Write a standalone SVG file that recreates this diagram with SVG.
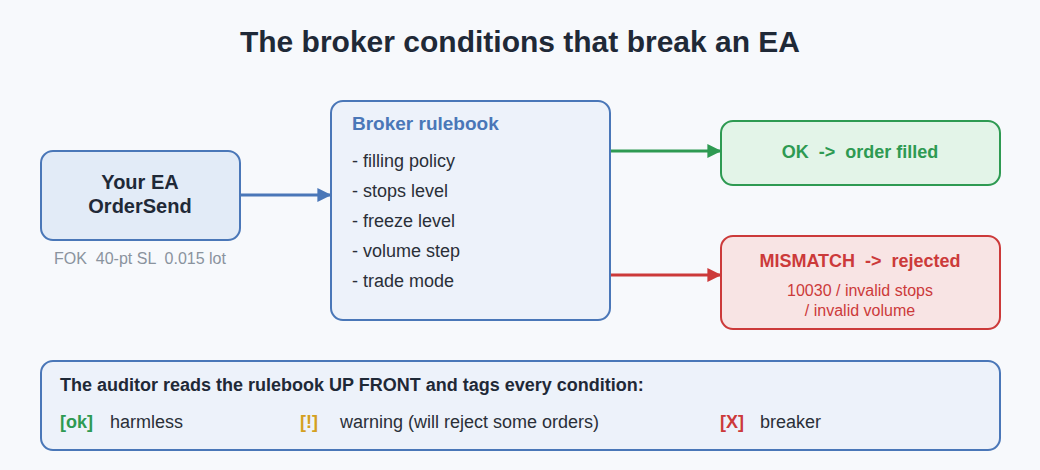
<svg xmlns="http://www.w3.org/2000/svg" width="1040" height="470" viewBox="0 0 1040 470">
<defs>
<style>
text{font-family:"Liberation Sans",Arial,sans-serif}
.box{stroke-width:2}
.blue{fill:#edf2fa;stroke:#4a77b8}
.dark{fill:#1f2937}
.item{font-size:18px;fill:#2a2f38}
.conn{fill:none;stroke-width:3}
</style>
<marker id="ab" viewBox="0 0 10 10" refX="9" refY="5" markerWidth="14" markerHeight="14" markerUnits="userSpaceOnUse" orient="auto"><path d="M0,0 L10,5 L0,10 z" fill="#4a77b8"/></marker>
<marker id="ag" viewBox="0 0 10 10" refX="9" refY="5" markerWidth="14" markerHeight="14" markerUnits="userSpaceOnUse" orient="auto"><path d="M0,0 L10,5 L0,10 z" fill="#2e9a52"/></marker>
<marker id="ar" viewBox="0 0 10 10" refX="9" refY="5" markerWidth="14" markerHeight="14" markerUnits="userSpaceOnUse" orient="auto"><path d="M0,0 L10,5 L0,10 z" fill="#cc3a3a"/></marker>
</defs>
<rect width="1040" height="470" fill="#f7f9fc"/>
<text x="520" y="52" text-anchor="middle" font-size="30" font-weight="bold" fill="#1f2937">The broker conditions that break an EA</text>
<g id="connectors">
<line class="conn" x1="241" y1="195" x2="330" y2="195" stroke="#4a77b8" marker-end="url(#ab)"/>
<line class="conn" x1="610" y1="151" x2="720" y2="151" stroke="#2e9a52" marker-end="url(#ag)"/>
<line class="conn" x1="610" y1="275" x2="720" y2="275" stroke="#cc3a3a" marker-end="url(#ar)"/>
</g>
<g id="ea">
<rect class="box" x="41" y="151" width="199" height="89" rx="12" fill="#e2ebf7" stroke="#4a77b8"/>
<text x="140" y="189" text-anchor="middle" font-size="20" font-weight="bold" class="dark">Your EA</text>
<text x="140" y="213" text-anchor="middle" font-size="20" font-weight="bold" class="dark">OrderSend</text>
<text x="140" y="264" text-anchor="middle" font-size="16" fill="#8a939e" xml:space="preserve">FOK  40-pt SL  0.015 lot</text>
</g>
<g id="rulebook">
<rect class="box blue" x="331" y="101" width="279" height="219" rx="12"/>
<text x="352" y="130" font-size="19" font-weight="bold" fill="#4a77b8">Broker rulebook</text>
<text class="item" x="352" y="167">- filling policy</text>
<text class="item" x="352" y="197">- stops level</text>
<text class="item" x="352" y="227">- freeze level</text>
<text class="item" x="352" y="257">- volume step</text>
<text class="item" x="352" y="287">- trade mode</text>
</g>
<g id="ok">
<rect class="box" x="721" y="121" width="279" height="64" rx="12" fill="#e3f4e8" stroke="#2e9a52"/>
<text x="860" y="158" text-anchor="middle" font-size="18" font-weight="bold" fill="#2e9a52" xml:space="preserve">OK  -&gt;  order filled</text>
</g>
<g id="mismatch">
<rect class="box" x="721" y="236" width="279" height="93" rx="12" fill="#f8e4e4" stroke="#cc3a3a"/>
<text x="860" y="267" text-anchor="middle" font-size="18" font-weight="bold" fill="#cc3a3a" xml:space="preserve">MISMATCH  -&gt;  rejected</text>
<text x="860" y="296" text-anchor="middle" font-size="16" fill="#cc3a3a">10030 / invalid stops</text>
<text x="860" y="316" text-anchor="middle" font-size="16" fill="#cc3a3a">/ invalid volume</text>
</g>
<g id="auditor">
<rect class="box blue" x="41" y="361" width="959" height="89" rx="12"/>
<text x="60" y="391" font-size="18" font-weight="bold" class="dark">The auditor reads the rulebook UP FRONT and tags every condition:</text>
<text x="60" y="428" font-size="18" font-weight="bold" fill="#2e9a52">[ok]</text>
<text x="110" y="428" font-size="18" fill="#2a2f38">harmless</text>
<text x="300" y="428" font-size="18" font-weight="bold" fill="#d4a020">[!]</text>
<text x="340" y="428" font-size="18" fill="#2a2f38">warning (will reject some orders)</text>
<text x="720" y="428" font-size="18" font-weight="bold" fill="#cc3a3a">[X]</text>
<text x="760" y="428" font-size="18" fill="#2a2f38">breaker</text>
</g>
</svg>
